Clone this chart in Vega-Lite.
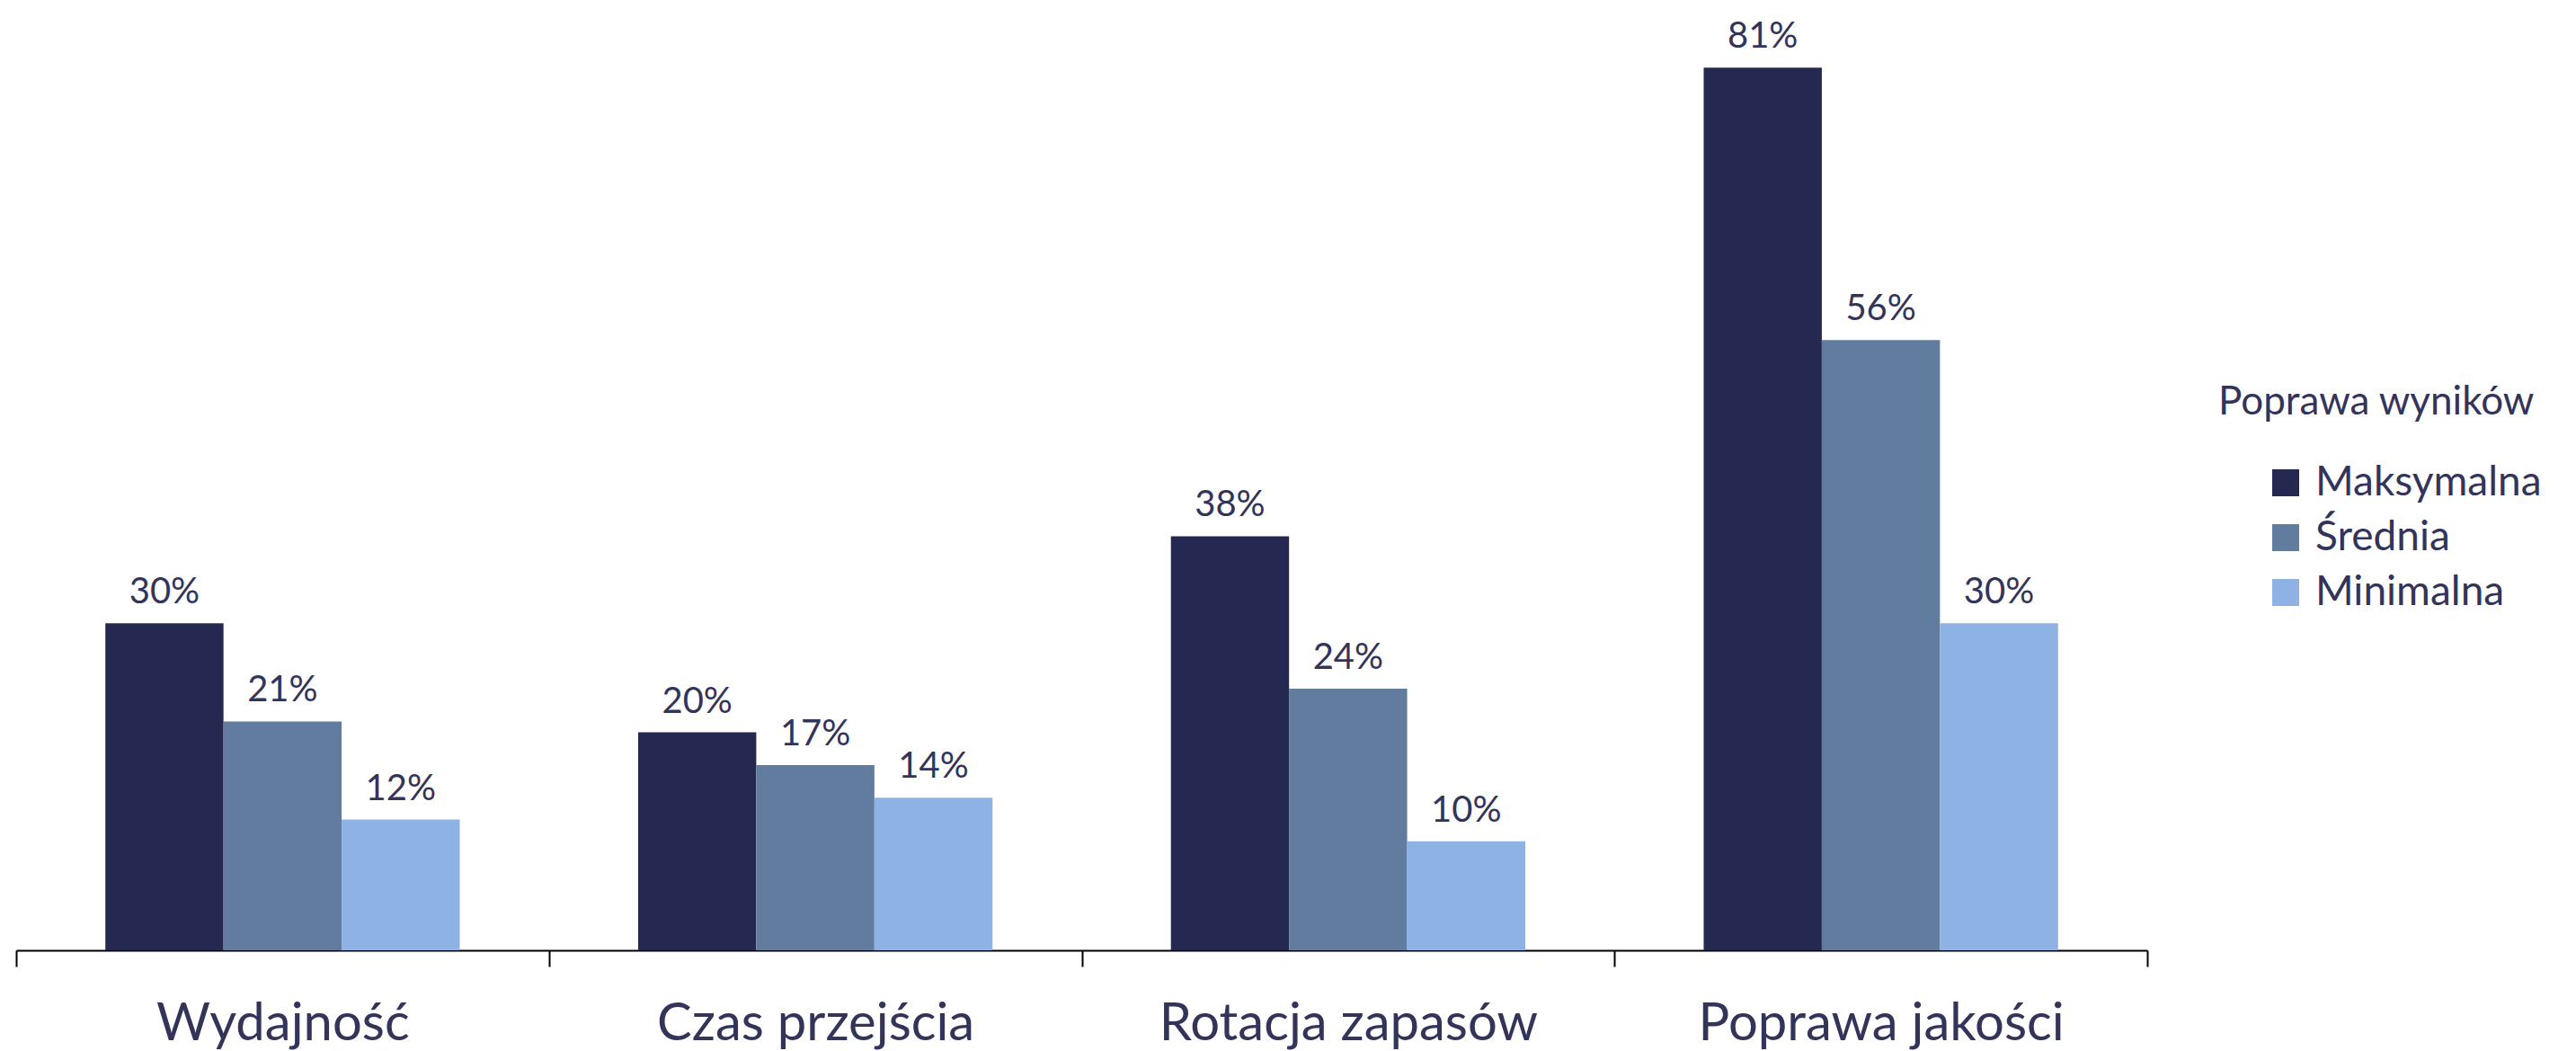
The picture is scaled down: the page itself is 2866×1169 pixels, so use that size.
{
  "$schema": "https://vega.github.io/schema/vega-lite/v6.json",
  "width": 2371,
  "height": 1057,
  "padding": {"left": 18, "top": 0, "right": 477, "bottom": 112},
  "autosize": {"type": "none"},
  "background": "white",
  "config": {
    "view": {"stroke": null},
    "font": "Lato",
    "text": {"font": "Lato"}
  },
  "data": {
    "values": [
      {"kategoria": "Wydajność", "seria": "Maksymalna", "wartosc": 0.30},
      {"kategoria": "Wydajność", "seria": "Średnia", "wartosc": 0.21},
      {"kategoria": "Wydajność", "seria": "Minimalna", "wartosc": 0.12},
      {"kategoria": "Czas przejścia", "seria": "Maksymalna", "wartosc": 0.20},
      {"kategoria": "Czas przejścia", "seria": "Średnia", "wartosc": 0.17},
      {"kategoria": "Czas przejścia", "seria": "Minimalna", "wartosc": 0.14},
      {"kategoria": "Rotacja zapasów", "seria": "Maksymalna", "wartosc": 0.38},
      {"kategoria": "Rotacja zapasów", "seria": "Średnia", "wartosc": 0.24},
      {"kategoria": "Rotacja zapasów", "seria": "Minimalna", "wartosc": 0.10},
      {"kategoria": "Poprawa jakości", "seria": "Maksymalna", "wartosc": 0.81},
      {"kategoria": "Poprawa jakości", "seria": "Średnia", "wartosc": 0.56},
      {"kategoria": "Poprawa jakości", "seria": "Minimalna", "wartosc": 0.30}
    ]
  },
  "encoding": {
    "x": {
      "field": "kategoria",
      "type": "nominal",
      "sort": ["Wydajność", "Czas przejścia", "Rotacja zapasów", "Poprawa jakości"],
      "scale": {"paddingInner": 0, "paddingOuter": 0},
      "axis": {
        "title": null,
        "labelAngle": 0,
        "labelFontSize": 58,
        "labelLimit": 0,
        "labelColor": "#33345a",
        "labelFont": "Lato",
        "labelPadding": 35,
        "tickBand": "extent",
        "tickSize": 18,
        "tickWidth": 2,
        "tickColor": "#000000",
        "domainColor": "#000000",
        "domainWidth": 2,
        "grid": false
      }
    },
    "xOffset": {
      "field": "seria",
      "type": "nominal",
      "sort": ["Maksymalna", "Średnia", "Minimalna"],
      "scale": {"paddingInner": 0, "paddingOuter": 0.755}
    },
    "y": {
      "field": "wartosc",
      "type": "quantitative",
      "scale": {"domain": [0, 0.872], "nice": false},
      "axis": null
    }
  },
  "layer": [
    {
      "mark": {"type": "bar"},
      "encoding": {
        "color": {
          "field": "seria",
          "type": "nominal",
          "sort": ["Maksymalna", "Średnia", "Minimalna"],
          "scale": {
            "domain": ["Maksymalna", "Średnia", "Minimalna"],
            "range": ["#252850", "#627ca0", "#8fb2e4"]
          },
          "legend": {
            "title": "Poprawa wyników",
            "orient": "none",
            "legendX": 2450,
            "legendY": 426,
            "titleFontSize": 44,
            "titleFont": "Lato",
            "titleFontWeight": "normal",
            "titleColor": "#33345a",
            "titleLimit": 0,
            "titlePadding": 44,
            "labelFontSize": 46,
            "labelFont": "Lato",
            "labelColor": "#33345a",
            "labelLimit": 0,
            "symbolType": "square",
            "symbolSize": 900,
            "symbolStrokeWidth": 0,
            "rowPadding": 15,
            "labelOffset": 10,
            "offset": 0,
            "padding": 0,
            "symbolOffset": 52
          }
        }
      }
    },
    {
      "mark": {"type": "text", "baseline": "bottom", "dy": -14, "fontSize": 40, "color": "#33345a", "font": "Lato"},
      "encoding": {
        "text": {"field": "wartosc", "type": "quantitative", "format": ".0%"}
      }
    }
  ]
}
